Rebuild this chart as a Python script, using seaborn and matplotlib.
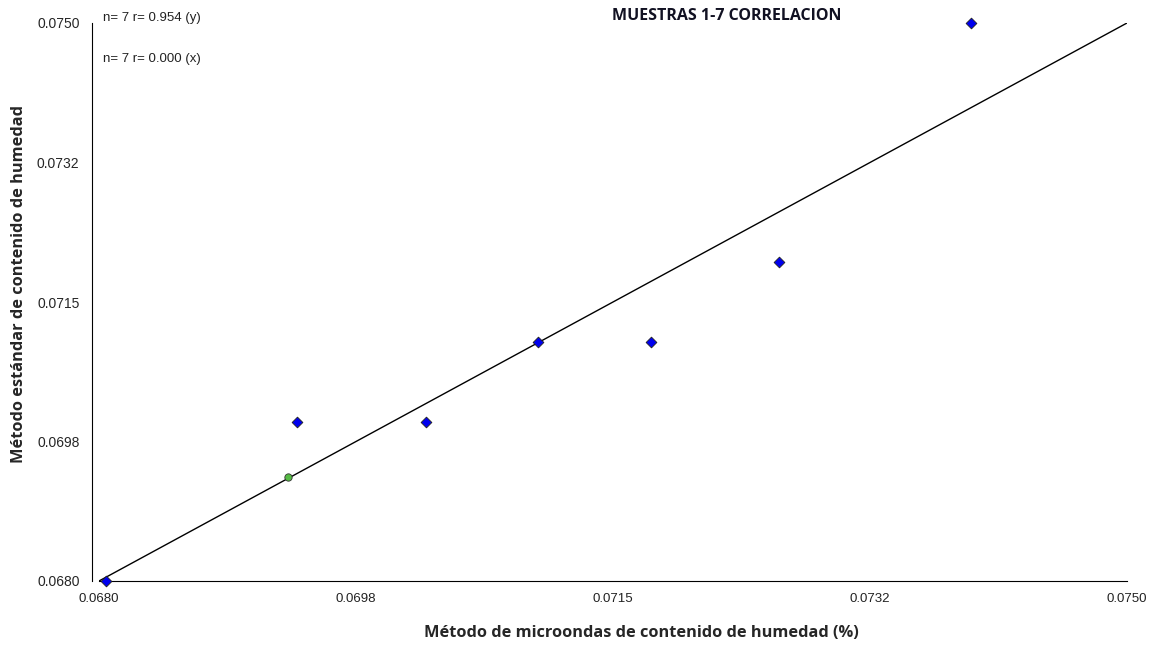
import matplotlib
matplotlib.use("Agg")
import matplotlib.pyplot as plt
import seaborn as sns
import pandas as pd

# Readings taken from the chart
microondas = [0.06805, 0.06935, 0.07023, 0.07099, 0.07176, 0.07263, 0.07394]
estandar = [0.0680, 0.0700, 0.0700, 0.0710, 0.0710, 0.0720, 0.0750]
centro_x = [0.06929]
centro_y = [0.06931]
recta_x = [0.0680, 0.0750]
recta_y = [0.0680, 0.0750]
ticks = [0.0680, 0.06975, 0.0715, 0.07325, 0.0750]
tick_labels = ['0.0680', '0.0698', '0.0715', '0.0732', '0.0750']
stats_text = ['n= 7 r= 0.954 (y)', 'n= 7 r= 0.000 (x)']

sns.set_style("white")
plt.rcParams['font.family'] = ['Liberation Sans', 'DejaVu Sans']

df = pd.DataFrame({'x': microondas, 'y': estandar})
df_fit = pd.DataFrame({'x': recta_x, 'y': recta_y})

fig = plt.figure(figsize=(11.57, 6.52), dpi=100)
ax = fig.add_axes([99/1157, 1 - 581/652, (1127 - 99)/1157, (581 - 23)/652])

sns.lineplot(data=df_fit, x='x', y='y', color='black', linewidth=1.0, ax=ax)
sns.scatterplot(data=df, x='x', y='y', marker='D', s=30, color='#0000ee',
                edgecolor='#222222', linewidth=0.6, zorder=5, clip_on=False, ax=ax)
ax.scatter(centro_x, centro_y, marker='o', s=28, color='#55bb44',
           edgecolor='#333333', linewidth=0.6, zorder=6, clip_on=False)

ax.set_xlim(0.0680, 0.0750)
ax.set_ylim(0.0680, 0.0750)
ax.set_xticks(ticks)
ax.set_xticklabels(tick_labels, fontsize=9.5, color='#222222')
ax.set_yticks(ticks)
ax.set_yticklabels(tick_labels, fontsize=9.5, color='#222222')
ax.tick_params(axis='both', direction='out', length=5, width=1, color='black', pad=4)

for side in ['top', 'right']:
    ax.spines[side].set_visible(False)
ax.spines['left'].set_position(('outward', 5))
ax.spines['left'].set_color('black')
ax.spines['bottom'].set_color('black')
ax.spines['left'].set_bounds(0.0680, 0.0750)
ax.spines['bottom'].set_bounds(0.0680, 0.0750)

ax.set_xlabel('Método de microondas de contenido de humedad (%)', fontsize=11.8,
              fontweight='bold', family=['Open Sans', 'DejaVu Sans'])
ax.set_ylabel('Método estándar de contenido de humedad', fontsize=11.8,
              fontweight='bold', family=['Open Sans', 'DejaVu Sans'])
ax.xaxis.set_label_coords((641 - 99) / 1028, -(633 - 581) / 558)
ax.yaxis.set_label_coords(-(99 - 19) / 1028, (581 - 284) / 558)
ax.xaxis.label.set_va('center')
ax.yaxis.label.set_va('center')

fig.text(103/1157, 1 - 18/652, stats_text[0], fontsize=9.5, va='center', ha='left', color='#222222')
fig.text(103/1157, 1 - 59/652, stats_text[1], fontsize=9.5, va='center', ha='left', color='#222222')
fig.text(727/1157, 1 - 16/652, 'MUESTRAS 1-7 CORRELACION', fontsize=11.5, fontweight='bold',
         family=['Open Sans', 'DejaVu Sans'], ha='center', va='center', color='#111122')

fig.savefig('out.png', dpi=100)
